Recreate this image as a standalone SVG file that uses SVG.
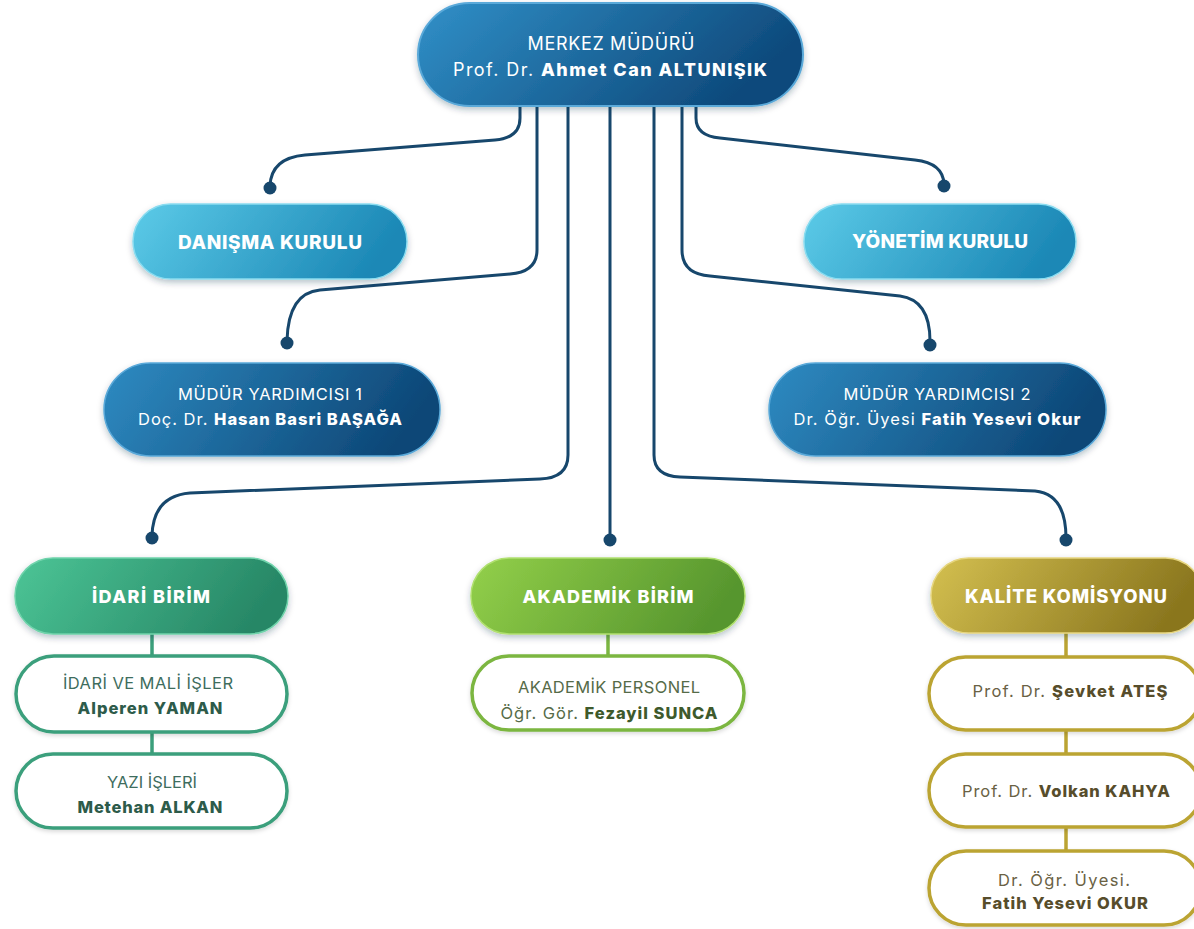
<svg xmlns="http://www.w3.org/2000/svg" width="1194" height="929" viewBox="0 0 1194 929">
<defs>
<linearGradient id="gTop" x1="0" y1="0" x2="1" y2="0.3"><stop offset="0" stop-color="#3190c8"/><stop offset="1" stop-color="#0e4a7c"/></linearGradient>
<linearGradient id="gLight" x1="0" y1="0" x2="1" y2="0.2"><stop offset="0" stop-color="#5ccbe8"/><stop offset="1" stop-color="#1c88b6"/></linearGradient>
<linearGradient id="gDark" x1="0" y1="0" x2="1" y2="0.2"><stop offset="0" stop-color="#2f8bc2"/><stop offset="1" stop-color="#0d4777"/></linearGradient>
<linearGradient id="gIdari" x1="0" y1="0" x2="1" y2="0.2"><stop offset="0" stop-color="#4cc596"/><stop offset="1" stop-color="#278766"/></linearGradient>
<linearGradient id="gAkad" x1="0" y1="0" x2="1" y2="0.2"><stop offset="0" stop-color="#93d04a"/><stop offset="1" stop-color="#57962e"/></linearGradient>
<linearGradient id="gKal" x1="0" y1="0" x2="1" y2="0.2"><stop offset="0" stop-color="#d4c050"/><stop offset="1" stop-color="#8a761e"/></linearGradient>
<filter id="sh" x="-10%" y="-20%" width="120%" height="150%"><feDropShadow dx="0" dy="3" stdDeviation="3" flood-color="#0a2a40" flood-opacity="0.28"/></filter>
<filter id="sh2" x="-10%" y="-20%" width="120%" height="150%"><feDropShadow dx="0" dy="2" stdDeviation="2" flood-color="#000" flood-opacity="0.15"/></filter>
</defs>
<style>
text{font-family:Inter,"Noto Sans","DejaVu Sans",sans-serif;text-anchor:middle}
.w{fill:#ffffff}
.b{font-weight:800}
.h{font-size:19px;font-weight:800;fill:#ffffff}
.s{font-size:16.5px}
.lk{fill:none;stroke:#17476c;stroke-width:3;stroke-linecap:round;stroke-linejoin:round}
.dot{fill:#17476c}
.ti{fill:#3e6d5d}.tib{fill:#2d5b4a}
.ta{fill:#566b48}.tab{fill:#3e5a2c}
.tk{fill:#6a6244}.tkb{fill:#574d2b}
.wi{fill:#ffffff;stroke:#3b9f7b;stroke-width:3.5}
.wa{fill:#ffffff;stroke:#7bb641;stroke-width:3.5}
.wk{fill:#ffffff;stroke:#bba433;stroke-width:3.5}
</style>
<rect width="1194" height="929" fill="#ffffff"/>

<g id="connectors">
<path class="lk" d="M520,104 V118 Q520,138 495,140 L305,155 Q271,158 270,186"/>
<path class="lk" d="M537,104 V250 Q537,272 510,274 L320,290 Q288,293 287,341"/>
<path class="lk" d="M568,104 V455 Q568,478 540,479 L190,493 Q153,496 152,536"/>
<path class="lk" d="M610,104 V538"/>
<path class="lk" d="M654,104 V455 Q654,476 680,477 L1035,491 Q1066,494 1066,538"/>
<path class="lk" d="M682,104 V250 Q682,274 710,276 L900,296 Q930,300 930,341"/>
<path class="lk" d="M696,104 V118 Q696,136 720,138 L915,160 Q943,163 944,184"/>
<circle class="dot" cx="270" cy="188" r="6.5"/>
<circle class="dot" cx="287" cy="343" r="6.5"/>
<circle class="dot" cx="152" cy="538" r="6.5"/>
<circle class="dot" cx="610" cy="540" r="6.5"/>
<circle class="dot" cx="1066" cy="540" r="6.5"/>
<circle class="dot" cx="930" cy="345" r="6.5"/>
<circle class="dot" cx="944" cy="186" r="6.5"/>
<path d="M152,634 V656 M152,732 V754" stroke="#3b9f7b" stroke-width="3.5" fill="none"/>
<path d="M608,634 V656" stroke="#7bb641" stroke-width="3.5" fill="none"/>
<path d="M1066,633 V657 M1066,730 V754 M1066,827 V851" stroke="#bba433" stroke-width="3.5" fill="none"/>
</g>

<g id="merkez">
<rect x="418" y="3" width="385" height="103" rx="51.5" fill="url(#gTop)" stroke="#5aa9d9" stroke-width="2" filter="url(#sh)"/>
<text x="611" y="50" class="w" style="font-size:18px" textLength="167">MERKEZ MÜDÜRÜ</text>
<text x="610" y="76" class="w" style="font-size:18px" textLength="314">Prof. Dr. <tspan class="b">Ahmet Can ALTUNIŞIK</tspan></text>
</g>

<g id="danisma">
<rect x="133" y="204" width="274" height="75" rx="37.5" fill="url(#gLight)" stroke="#8adcf0" stroke-width="1.5" filter="url(#sh)"/>
<text x="270" y="249" class="h" textLength="184">DANIŞMA KURULU</text>
</g>

<g id="yonetim">
<rect x="804" y="204" width="272" height="75" rx="37.5" fill="url(#gLight)" stroke="#8adcf0" stroke-width="1.5" filter="url(#sh)"/>
<text x="940" y="248" class="h" textLength="176">YÖNETİM KURULU</text>
</g>

<g id="yardimci1">
<rect x="104" y="363" width="336" height="93" rx="46.5" fill="url(#gDark)" stroke="#5aa9d9" stroke-width="1.5" filter="url(#sh)"/>
<text x="270" y="400" class="w s" textLength="184">MÜDÜR YARDIMCISI 1</text>
<text x="270" y="425" class="w s" textLength="264">Doç. Dr. <tspan class="b">Hasan Basri BAŞAĞA</tspan></text>
</g>

<g id="yardimci2">
<rect x="769" y="363" width="337" height="93" rx="46.5" fill="url(#gDark)" stroke="#5aa9d9" stroke-width="1.5" filter="url(#sh)"/>
<text x="937" y="400" class="w s" textLength="187">MÜDÜR YARDIMCISI 2</text>
<text x="937" y="425" class="w s" textLength="287">Dr. Öğr. Üyesi <tspan class="b">Fatih Yesevi Okur</tspan></text>
</g>

<g id="idari">
<rect x="15" y="558" width="273" height="76" rx="38" fill="url(#gIdari)" stroke="#6fd3ab" stroke-width="1.5" filter="url(#sh)"/>
<text x="151" y="603" class="h" style="font-size:18px" textLength="118">İDARİ BİRİM</text>
</g>
<g id="idari-mali">
<rect x="16" y="656" width="271" height="76" rx="38" class="wi" filter="url(#sh2)"/>
<text x="148" y="689" class="s ti" textLength="170">İDARİ VE MALİ İŞLER</text>
<text x="150" y="714" class="s b tib" textLength="145">Alperen YAMAN</text>
</g>
<g id="yazi-isleri">
<rect x="16" y="754" width="271" height="74" rx="37" class="wi" filter="url(#sh2)"/>
<text x="152" y="788" class="s ti" textLength="90">YAZI İŞLERİ</text>
<text x="150" y="813" class="s b tib" textLength="145">Metehan ALKAN</text>
</g>

<g id="akademik">
<rect x="471" y="558" width="274" height="76" rx="38" fill="url(#gAkad)" stroke="#b0e070" stroke-width="1.5" filter="url(#sh)"/>
<text x="608" y="603" class="h" style="font-size:18px" textLength="171">AKADEMİK BİRİM</text>
</g>
<g id="akademik-personel">
<rect x="472" y="656" width="272" height="74" rx="37" class="wa" filter="url(#sh2)"/>
<text x="609" y="693" class="s ta" textLength="182">AKADEMİK PERSONEL</text>
<text x="609" y="719" class="s ta" textLength="217">Öğr. Gör. <tspan class="b tab">Fezayil SUNCA</tspan></text>
</g>

<g id="kalite">
<rect x="931" y="558" width="272" height="75" rx="37.5" fill="url(#gKal)" stroke="#e6d680" stroke-width="1.5" filter="url(#sh)"/>
<text x="1066" y="603" class="h" style="font-size:18.5px" textLength="202">KALİTE KOMİSYONU</text>
</g>
<g id="kalite-1">
<rect x="929" y="657" width="272" height="73" rx="36.5" class="wk" filter="url(#sh2)"/>
<text x="1070" y="697" class="s tk" textLength="195">Prof. Dr. <tspan class="b tkb">Şevket ATEŞ</tspan></text>
</g>
<g id="kalite-2">
<rect x="929" y="754" width="272" height="73" rx="36.5" class="wk" filter="url(#sh2)"/>
<text x="1066" y="797" class="s tk" textLength="208">Prof. Dr. <tspan class="b tkb">Volkan KAHYA</tspan></text>
</g>
<g id="kalite-3">
<rect x="929" y="851" width="272" height="74" rx="37" class="wk" filter="url(#sh2)"/>
<text x="1064" y="886" class="s tk" textLength="132">Dr. Öğr. Üyesi.</text>
<text x="1065" y="909" class="s b tkb" textLength="166">Fatih Yesevi OKUR</text>
</g>
</svg>
